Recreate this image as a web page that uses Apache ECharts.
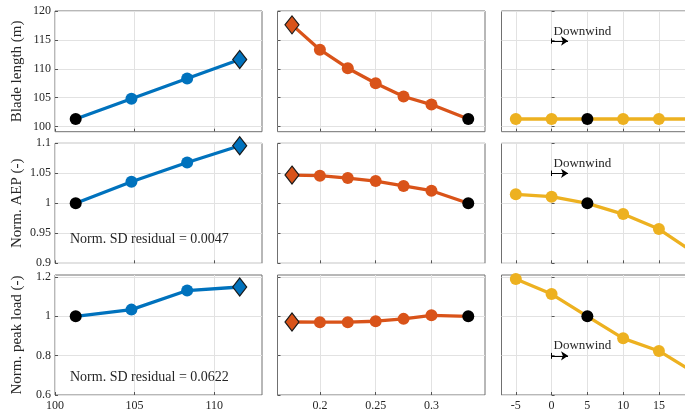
<!DOCTYPE html>
<html>
<head>
<meta charset="utf-8">
<script src="https://cdn.jsdelivr.net/npm/echarts@6/dist/echarts.min.js"></script>
<style>html,body{margin:0;padding:0;background:#fff;overflow:hidden;width:685px;height:416px;}#c{width:715px;height:416px;}</style>
</head>
<body>
<div id="c"></div>
<script>
// ---- data ----
const xCol1 = [101.3, 104.8, 108.3, 111.6];
const xCol2 = [0.175, 0.2, 0.225, 0.25, 0.275, 0.3, 0.333];
const xCol3 = [-5, 0, 5, 10, 15, 20];

const bladeCol1 = [101.3, 104.8, 108.3, 111.6];
const bladeCol2 = [117.6, 113.3, 110.1, 107.5, 105.2, 103.8, 101.3];
const bladeCol3 = [101.3, 101.3, 101.3, 101.3, 101.3, 101.3];

const aepCol1 = [1.0, 1.036, 1.068, 1.096];
const aepCol2 = [1.047, 1.046, 1.042, 1.037, 1.029, 1.021, 1.0];
const aepCol3 = [1.015, 1.011, 1.0, 0.982, 0.957, 0.917];

const loadCol1 = [1.0, 1.034, 1.131, 1.149];
const loadCol2 = [0.971, 0.97, 0.97, 0.975, 0.987, 1.005, 1.0];
const loadCol3 = [1.19, 1.113, 1.0, 0.888, 0.824, 0.712];

const xTicks1 = [100, 105, 110];
const xTicks2 = [0.2, 0.25, 0.3];
const xTicks3 = [-5, 0, 5, 10, 15, 20];
const yTicksBlade = [100, 105, 110, 115, 120];
const yTicksAep = [0.9, 0.95, 1, 1.05, 1.1];
const yTicksLoad = [0.6, 0.8, 1, 1.2];

const rowNames = ['Blade length (m)', 'Norm. AEP (-)', 'Norm. peak load (-)'];
const residualTexts = ['', 'Norm. SD residual = 0.0047', 'Norm. SD residual = 0.0622'];
const annotationText = 'Downwind';

const baselineIdx = [0, 6, 2];
const optimumIdx = [3, 0, -1];

// annotation positions (data coords, col 3)
const annoY = [[116.5, 114.8], [1.066, 1.05], [0.85, 0.799]];
const annoBarHalf = [0.45, 0.0045, 0.015];

// ---- layout ----
const FONT = 'Liberation Serif';
const colors = ['#0072BD', '#D95319', '#EDB120'];
const colLeft = [55, 277.5, 501.5];
const colWidth = [207, 207.5, 207.5];
const rowTop = [11, 143.3, 275];
const rowHeight = [120.7, 120, 120];
const xRanges = [[100, 113], [0.162, 0.348], [-7, 22]];
const yRanges = [[99.1, 120], [0.9, 1.1], [0.6, 1.21]];
const xs = [xCol1, xCol2, xCol3];
const xTicks = [xTicks1, xTicks2, xTicks3];
const yTicks = [yTicksBlade, yTicksAep, yTicksLoad];
const ys = [[bladeCol1, bladeCol2, bladeCol3], [aepCol1, aepCol2, aepCol3], [loadCol1, loadCol2, loadCol3]];

const grid = [], xAxis = [], yAxis = [], series = [];
for (let r = 0; r < 3; r++) {
  for (let c = 0; c < 3; c++) {
    const i = r * 3 + c;
    grid.push({left: colLeft[c], top: rowTop[r], width: colWidth[c], height: rowHeight[r],
      show: true, borderColor: '#707070', borderWidth: 1, backgroundColor: '#fff'});
    xAxis.push({
      type: 'value', gridIndex: i, min: xRanges[c][0], max: xRanges[c][1],
      axisLine: {show: false},
      axisTick: {show: true, inside: true, length: 3, lineStyle: {color: '#555'}, customValues: xTicks[c]},
      axisLabel: {show: r === 2, customValues: xTicks[c], margin: 5, fontFamily: FONT, fontSize: 12, color: '#262626'},
      splitLine: {show: true, lineStyle: {color: '#e2e2e2', width: 1}}
    });
    yAxis.push({
      type: 'value', gridIndex: i, min: yRanges[r][0], max: yRanges[r][1],
      name: c === 0 ? rowNames[r] : '', nameLocation: 'middle', nameGap: 30,
      nameTextStyle: {fontFamily: FONT, fontSize: 15, color: '#262626'},
      axisLine: {show: false},
      axisTick: {show: true, inside: true, length: 3, lineStyle: {color: '#555'}, customValues: yTicks[r]},
      axisLabel: {show: c === 0, customValues: yTicks[r], margin: 4, fontFamily: FONT, fontSize: 12, color: '#262626'},
      splitLine: {show: true, lineStyle: {color: '#e2e2e2', width: 1}}
    });
    const data = xs[c].map((x, k) => {
      const item = {value: [x, ys[r][c][k]]};
      if (k === baselineIdx[c]) {
        item.symbol = 'circle'; item.symbolSize = 12;
        item.itemStyle = {color: '#000', borderColor: '#000'};
        item.z = 5;
      } else if (k === optimumIdx[c]) {
        item.symbol = 'diamond'; item.symbolSize = [14, 18];
        item.itemStyle = {color: colors[c], borderColor: '#1a1a1a', borderWidth: 1.2};
      }
      return item;
    });
    const s = {
      type: 'line', xAxisIndex: i, yAxisIndex: i, data: data,
      symbol: 'circle', symbolSize: 12, showSymbol: true,
      lineStyle: {color: colors[c], width: 3.3},
      itemStyle: {color: colors[c], borderWidth: 0},
      animation: false, silent: true
    };
    if (c === 2) {
      const ya = annoY[r][0], yb = annoY[r][1], h = annoBarHalf[r];
      s.markLine = {
        silent: true, animation: false, label: {show: false},
        lineStyle: {color: '#000', width: 1, type: 'solid'},
        data: [
          [{coord: [0, yb], symbol: 'none'}, {coord: [2.3, yb], symbol: 'arrow', symbolSize: 7}],
          [{coord: [0, yb - h], symbol: 'none'}, {coord: [0, yb + h], symbol: 'none'}]
        ]
      };
      s.markPoint = {
        silent: true, animation: false, symbol: 'rect', symbolSize: 1,
        itemStyle: {color: 'rgba(0,0,0,0)'},
        label: {show: true, position: 'right', distance: 0, formatter: annotationText,
          fontFamily: FONT, fontSize: 13, color: '#262626'},
        data: [{coord: [0.2, ya]}]
      };
    }
    series.push(s);
  }
}

const graphic = [];
for (let r = 1; r < 3; r++) {
  graphic.push({type: 'text', left: 70, top: (r === 1 ? 232 : 370.5),
    style: {text: residualTexts[r], font: '14px "' + FONT + '"', fill: '#262626'}, z: 10});
}

const chart = echarts.init(document.getElementById('c'), null, {renderer: 'canvas'});
chart.setOption({animation: false, grid, xAxis, yAxis, series, graphic});
</script>
</body>
</html>
